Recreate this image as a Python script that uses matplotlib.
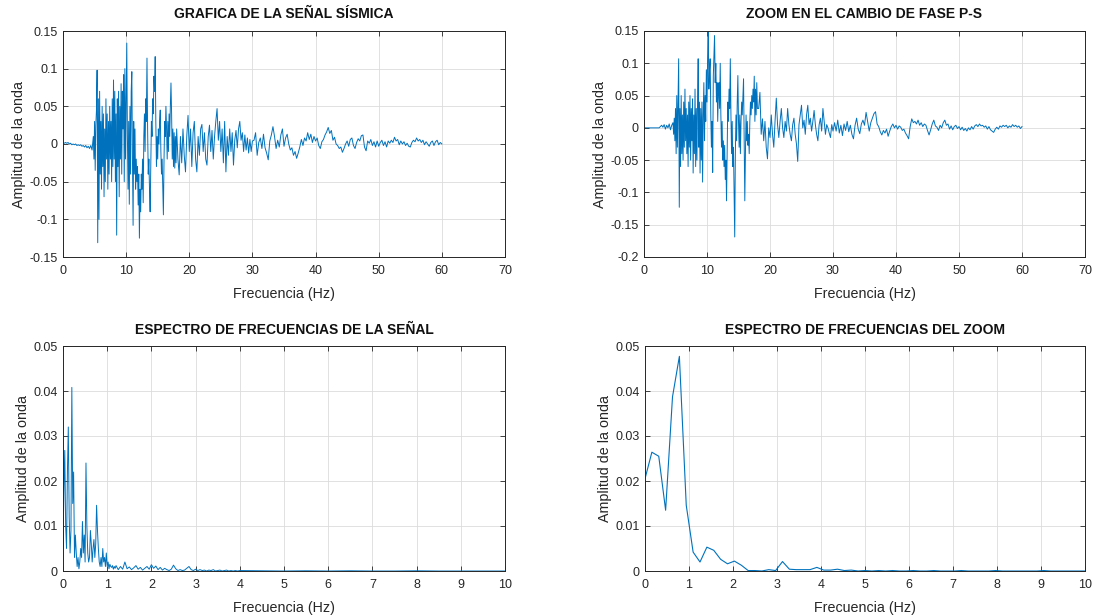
import numpy as np
import matplotlib
matplotlib.use("Agg")
import matplotlib.pyplot as plt
from matplotlib.ticker import FuncFormatter, MultipleLocator

plt.rcParams['font.family'] = ['Liberation Sans', 'DejaVu Sans']
plt.rcParams['axes.unicode_minus'] = False

# ---------------- seismic record (full) ----------------
sig_pre = [0.002, 0.001, 0.002, 0.001, 0.002, 0.000, 0.001, -0.001, 0.000, -0.001,
           0.000, -0.002, -0.001, -0.002, -0.001, -0.003, -0.002, -0.004, -0.002, -0.005,
           -0.003, -0.006, -0.002, -0.008]
sig_main = [0.010, -0.020, 0.030, -0.035, 0.025, 0.045, 0.098, -0.131, 0.060, -0.100,
            0.070, -0.040, 0.030, -0.060, 0.050, -0.030, 0.040, -0.070, 0.020, -0.050,
            0.060, -0.020, 0.040, -0.060, 0.030, -0.040, 0.050, -0.020, 0.030, -0.050,
            0.060, -0.030, 0.085, -0.020, 0.070, -0.050, 0.040, -0.121, 0.060, -0.030,
            0.070, -0.070, 0.050, -0.020, 0.080, -0.040, 0.070, 0.020, 0.092, -0.050,
            0.100, -0.020, 0.060, 0.134, 0.010, -0.060, 0.030, -0.080, 0.050, -0.040,
            0.070, 0.096, -0.020, -0.108, 0.030, -0.040, 0.020, -0.060, -0.020, -0.050,
            -0.030, -0.081, -0.040, -0.125, -0.060, -0.090, -0.040, -0.060, -0.020, -0.078,
            0.010, 0.040, -0.010, 0.060, 0.030, 0.114, 0.020, -0.040, -0.020, -0.060,
            -0.090, -0.030, 0.030, 0.010, 0.060, 0.040, 0.090, 0.070, 0.116, 0.030,
            -0.030, 0.010, -0.020, 0.020, 0.000, 0.030, 0.045, -0.010, -0.040, -0.020,
            -0.060, -0.094, -0.020, 0.030, 0.010, 0.050, 0.020, -0.020, 0.030, -0.010,
            0.040, 0.010, 0.050, 0.081, 0.040, -0.020, 0.020, -0.030, 0.015, -0.032,
            0.010, -0.025, 0.020]
sig_mid = [-0.020, -0.041, 0.010, -0.025, 0.020, -0.015, -0.037, 0.010, 0.038, -0.010,
           0.020, -0.030, 0.015, 0.030, -0.020, -0.037, 0.010, -0.015, 0.020, 0.026,
           -0.010, 0.015, -0.020, -0.028, 0.010, 0.025, -0.010, 0.018, -0.020, 0.010,
           0.030, 0.047, 0.005, 0.030, -0.010, 0.020, -0.025, 0.030, -0.037, 0.010,
           -0.015, 0.020, -0.010, 0.015, -0.028, 0.005, 0.018, -0.005, 0.020, 0.030,
           0.005, 0.015, -0.010, 0.012, -0.008, 0.008, -0.012, 0.006, -0.010, 0.004]
sig_tail = [0.005, 0.015, -0.015, 0.002, 0.008, -0.006, 0.013, -0.005,
            -0.012, -0.021, 0.004, 0.012, 0.023, 0.010, -0.006, 0.005,
            -0.004, 0.012, 0.020, -0.003, 0.008, 0.013, 0.000, -0.008,
            -0.005, -0.015, -0.010, -0.019, -0.012, -0.004, 0.006, -0.002,
            0.008, 0.004, 0.015, 0.006, 0.013, 0.002, 0.010, 0.004,
            0.008, -0.002, -0.006, 0.003, 0.006, 0.012, 0.016, 0.022,
            0.014, 0.018, 0.005, 0.009, 0.000, -0.002, -0.006, -0.004,
            -0.011, -0.006, 0.000, 0.004, -0.003, 0.006, 0.008, -0.002,
            -0.006, 0.002, 0.007, 0.004, 0.011, 0.012, -0.004, -0.009,
            0.004, 0.001, 0.006, -0.002, 0.003, -0.004, 0.004, -0.003,
            0.002, 0.005, -0.002, 0.003, -0.004, 0.004, 0.001, 0.005,
            0.002, 0.009, 0.004, 0.006, -0.001, 0.004, 0.000, 0.003,
            -0.002, 0.001, -0.003, -0.004, 0.002, 0.005, 0.003, 0.008,
            0.004, 0.006, 0.002, 0.005, -0.001, 0.003, 0.000, -0.003,
            0.002, 0.004, -0.002, 0.003, 0.005, -0.001, 0.002, 0.000]

# ---------------- zoomed record (P-S phase change) ----------------
zoom_pre = [0.0, 0.0, 0.0, 0.0, 0.0, 0.0, 0.0, 0.0, 0.0, 0.0, 0.0, 0.0, 0.0,
            0.002, 0.004, 0.001, 0.005, -0.002, 0.004, 0.000, 0.006, -0.003, 0.004]
zoom_main = [0.008, -0.010, 0.015, -0.020, 0.030, -0.040, 0.050, -0.030, 0.040, 0.107,
             -0.123, 0.030, -0.060, 0.050, -0.040, 0.020, -0.050, 0.040, -0.030, 0.060,
             -0.020, 0.030, -0.040, 0.020, -0.060, 0.040, -0.030, 0.050, -0.050, 0.030,
             -0.020, 0.045, -0.070, 0.020, -0.040, 0.060, -0.060, 0.030, -0.050, 0.040,
             0.107, -0.030, 0.040, -0.070,
             0.030, -0.050, 0.040, -0.084, 0.020, 0.070, -0.020, 0.050, 0.010, 0.090,
             0.040, 0.110, 0.150, 0.060, 0.090, 0.107, 0.020, -0.030, 0.010, -0.069,
             0.080, 0.110, 0.143, 0.070, 0.100, 0.040, 0.070, 0.010, 0.050, 0.070,
             0.030, 0.100, 0.020, -0.030, 0.010, -0.050, -0.020, -0.060, -0.027, -0.080,
             -0.050, -0.113, -0.030, 0.040, 0.010, 0.060, 0.030, 0.107, 0.020, -0.040,
             0.010, -0.060, -0.030, -0.100, -0.169, -0.040, 0.020, -0.020, 0.040, 0.081,
             0.010, -0.030, 0.020, -0.040, 0.010, 0.040, 0.020, 0.050, 0.076, -0.020,
             -0.113, -0.040, 0.020, -0.020, 0.010, -0.027, -0.010, -0.040, 0.010, 0.040,
             0.020, 0.050, 0.030, 0.060, 0.040, 0.080, 0.010, 0.060, 0.020, 0.070,
             0.030]
zoom_mid = [0.030, 0.055, -0.010, 0.014, -0.020, 0.010, -0.030, -0.048, 0.000, -0.015,
            0.020, -0.010, -0.030, 0.010, 0.046, 0.005, -0.015, 0.010, 0.030, 0.000,
            -0.015, 0.010, -0.005, 0.030, 0.005, -0.010, -0.020, 0.005, 0.015, -0.010,
            -0.025, -0.052, 0.005, 0.020, 0.035, 0.000, 0.012, -0.010, 0.020, 0.035,
            0.005, 0.015, -0.005, 0.010, 0.027, 0.005, -0.010, -0.020, 0.005, 0.015,
            -0.005, 0.030, 0.010, -0.010, 0.005, 0.000, -0.008, -0.015, 0.005, -0.005]
zoom_tail = [0.008, -0.005, 0.012, -0.008, 0.004, -0.012, 0.006, -0.004,
             0.010, -0.006, 0.004, -0.010, -0.017, 0.004, 0.015, -0.002,
             -0.009, 0.006, 0.012, 0.004, 0.024, 0.010, -0.005, 0.008,
             0.015, 0.022, 0.025, 0.006, 0.002, -0.006, -0.011, -0.004,
             -0.008, -0.002, -0.013, -0.005, 0.002, 0.006, 0.000, 0.004,
             -0.002, 0.003, 0.001, -0.004, -0.002, -0.008, -0.012, -0.017,
             0.002, 0.014, 0.008, 0.010, 0.006, 0.012, 0.004, 0.008,
             0.002, 0.006, 0.004, -0.004, -0.011, -0.003, 0.006, 0.012,
             0.003, 0.001, -0.004, 0.004, 0.000, 0.008, 0.012, 0.004,
             0.006, -0.002, 0.003, -0.003, 0.002, 0.004, -0.001, 0.002,
             -0.003, 0.001, -0.004, -0.001, -0.005, 0.000, -0.003, 0.002,
             -0.002, 0.003, 0.005, 0.002, 0.006, 0.003, 0.004, 0.001,
             0.003, -0.002, 0.002, -0.003, -0.005, -0.007, -0.002, 0.001,
             -0.002, 0.003, 0.001, 0.004, 0.002, 0.004, 0.000, 0.003,
             0.001, 0.005, 0.002, 0.004, 0.001, 0.003, -0.001, 0.002]

# ---------------- amplitude spectra ----------------
spec_low = [0.005, 0.018, 0.0268, 0.010, 0.005, 0.022, 0.032, 0.012, 0.004, 0.009,
            0.0408, 0.015, 0.022, 0.003, 0.008, 0.004, 0.001, 0.003, 0.0005, 0.002,
            0.005, 0.003, 0.011, 0.004, 0.008, 0.002, 0.024, 0.010, 0.004, 0.002,
            0.003, 0.009, 0.006, 0.002, 0.005, 0.007, 0.003, 0.006, 0.0146, 0.009,
            0.005, 0.002, 0.001, 0.003, 0.001, 0.005, 0.002, 0.003, 0.001, 0.004,
            0.001, 0.002, 0.0005, 0.0015, 0.001, 0.0008, 0.0012, 0.0004, 0.001, 0.0006,
            0.0012]
spec_mid = [0.0003, 0.0010, 0.0004, 0.0020, 0.0005, 0.0009, 0.0003, 0.0007, 0.0012, 0.0004,
            0.0008, 0.0002, 0.0006, 0.0010, 0.0004, 0.0014, 0.0006, 0.0011, 0.0003, 0.0008,
            0.0002, 0.0006, 0.0003, 0.0001, 0.0004, 0.0013, 0.0005, 0.0001, 0.0003, 0.0001,
            0.0002, 0.0006, 0.0010, 0.0003, 0.0001, 0.0004, 0.0001, 0.0003, 0.0001, 0.0002,
            0.0000, 0.0002, 0.0001, 0.0003, 0.0000, 0.0001, 0.0002, 0.0000, 0.0001, 0.0002,
            0.0000, 0.0001, 0.0000, 0.0001, 0.0000, 0.0001]
spec_high = [0.00005, 0.0, 0.00005, 0.0, 0.00005, 0.0, 0.0, 0.00005, 0.0, 0.0, 0.0, 0.0]

spec_zoom = [0.0205, 0.0264, 0.0255, 0.0135, 0.0387, 0.0477, 0.0146, 0.0042, 0.0020, 0.0053,
             0.0046, 0.0026, 0.0016, 0.0022, 0.0013, 0.0001, 0.0001, 0.0000, 0.0003, 0.0001,
             0.0021, 0.0004, 0.0003, 0.0003, 0.0003, 0.0008, 0.0002, 0.0002, 0.0004, 0.0001,
             0.0002, 0.0000, 0.0001, 0.0000, 0.0001, 0.0000, 0.0001, 0.0000, 0.0000, 0.0001,
             0.0000, 0.0000, 0.0001, 0.0000, 0.0000, 0.0000, 0.0001, 0.0000, 0.0000, 0.0000,
             0.0000, 0.0001, 0.0000, 0.0000, 0.0000, 0.0000, 0.0000, 0.0000, 0.0001, 0.0000,
             0.0000, 0.0000, 0.0000, 0.0000, 0.0000]


def timeline(parts):
    """parts: list of (start, step, values) -> concatenated axis and values"""
    xs, ys = [], []
    for start, step, vals in parts:
        xs.append(start + step * np.arange(len(vals)))
        ys.append(np.asarray(vals, dtype=float))
    return np.concatenate(xs), np.concatenate(ys)


t_sig, y_sig = timeline([(0.0, 0.2, sig_pre), (4.8, 0.1, sig_main),
                         (18.2, 0.2, sig_mid), (30.25, 0.25, sig_tail)])
t_zoom, y_zoom = timeline([(0.0, 0.2, zoom_pre), (4.6, 0.1, zoom_main),
                           (18.2, 0.2, zoom_mid), (30.25, 0.25, zoom_tail)])
f_sig, a_sig = timeline([(0.0, 0.02, spec_low), (1.25, 0.05, spec_mid),
                         (4.5, 0.5, spec_high)])
f_zoom, a_zoom = timeline([(0.0, 0.15625, spec_zoom)])

LINE = '#0072BD'
TXT = '#262626'

fig = plt.figure(figsize=(11.05, 6.16), dpi=100)
W, H = 1105, 616


def make_axes(left, top, right, bottom):
    return fig.add_axes([left / W, 1 - bottom / H, (right - left) / W, (bottom - top) / H])


def style(ax, title, xlim, ylim, xstep, ystep):
    ax.set_xlim(*xlim)
    ax.set_ylim(*ylim)
    ax.xaxis.set_major_locator(MultipleLocator(xstep))
    ax.yaxis.set_major_locator(MultipleLocator(ystep))
    fmt = FuncFormatter(lambda v, p: ('%g' % round(v, 6)))
    ax.xaxis.set_major_formatter(fmt)
    ax.yaxis.set_major_formatter(fmt)
    ax.grid(True, color='#dcdcdc', linewidth=0.6)
    ax.set_axisbelow(True)
    ax.tick_params(direction='in', length=3.5, width=0.6, colors=TXT,
                   labelsize=9, top=True, right=True)
    ax.tick_params(axis='x', pad=6)
    ax.tick_params(axis='y', pad=4)
    for s in ax.spines.values():
        s.set_color(TXT)
        s.set_linewidth(0.7)
    ax.set_title(title, fontsize=10, fontweight='bold', color='#111111', pad=9)
    ax.set_xlabel('Frecuencia (Hz)', fontsize=10.3, color=TXT, labelpad=7)
    ax.set_ylabel('Amplitud de la onda', fontsize=10.3, color=TXT, labelpad=2)


ax1 = make_axes(63, 31, 505, 257)
ax1.plot(t_sig, y_sig, color=LINE, linewidth=0.7)
style(ax1, 'GRAFICA DE LA SEÑAL SÍSMICA', (0, 70), (-0.15, 0.15), 10, 0.05)

ax2 = make_axes(644, 31, 1085, 257)
ax2.plot(t_zoom, y_zoom, color=LINE, linewidth=0.7)
style(ax2, 'ZOOM EN EL CAMBIO DE FASE P-S', (0, 70), (-0.2, 0.15), 10, 0.05)

ax3 = make_axes(63, 346, 505, 571)
ax3.plot(f_sig, a_sig, color=LINE, linewidth=0.7)
style(ax3, 'ESPECTRO DE FRECUENCIAS DE LA SEÑAL', (0, 10), (0, 0.05), 1, 0.01)

ax4 = make_axes(645, 346, 1085, 571)
ax4.plot(f_zoom, a_zoom, color=LINE, linewidth=0.8)
style(ax4, 'ESPECTRO DE FRECUENCIAS DEL ZOOM', (0, 10), (0, 0.05), 1, 0.01)

fig.savefig('out.png', dpi=100, facecolor='white')
